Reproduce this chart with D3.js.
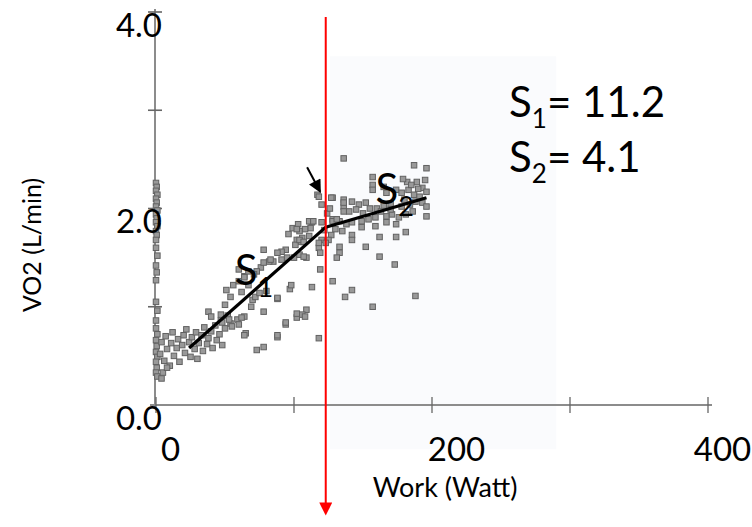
<!DOCTYPE html>
<html><head><meta charset="utf-8">
<script src="https://cdn.jsdelivr.net/npm/d3@7"></script>
<style>body{margin:0;background:#fff} svg{display:block} text{font-family:Lato,"Open Sans",sans-serif;fill:#000}</style>
</head><body><svg id="c" width="752" height="527"></svg>
<script>
// Rest-phase measurements plotted at 0 W (column on the y axis)
const restPoints = [[0,2.26],[0.5,2.22],[0,2.18],[1,2.14],[0,2.1],[0.5,2.06],[0,2.02],[1,1.98],[0,1.94],[0.5,1.9],[0,1.86],[1,1.82],[0,1.77],[0.5,1.73],[0,1.68],[0,1.6],[1,1.52],[0,1.42],[0.5,1.35],[0,1.27],[0,1.05],[1,0.96],[0,0.86],[0,0.78],[1,0.72],[0,0.66],[0.5,0.6],[0,0.54],[1,0.49],[0,0.44],[0.5,0.38],[0,0.33],[1,0.29]];
// Exercise measurements [Work (W), VO2 (L/min)]
const exercisePoints = [
[3,0.52],[4,0.64],[6,0.45],[7,0.7],[8,0.57],[10,0.4],[11,0.63],[12,0.74],[13,0.5],[15,0.58],[16,0.67],[17,0.44],[19,0.61],[20,0.71],[21,0.53],[22,0.77],[24,0.64],[25,0.49],[26,0.69],[28,0.57],[29,0.74],[30,0.47],[31,0.63],[33,0.71],[34,0.55],[35,0.79],[37,0.62],[38,0.68],[40,0.75],[41,0.58],[43,0.81],[44,0.66],[46,0.72],[47,0.86],[48,0.61],[50,0.78],[52,0.91],[54,0.83],[5,0.33],[8,0.38],[4,0.27],
[38,0.95],[40,0.9],[47,0.92],[48,0.84],[53,0.87],[55,0.8],[59,0.87],[60,0.82],[64,0.9],[65,0.73],[62,0.89],
[69,1.0],[70,1.07],[72,1.1],[75,1.14],[80,1.16],[51,1.17],[56,1.22],[60,1.26],[64,1.31],[67,1.36],[54,1.1],[50,1.02],
[60,1.38],[64,1.3],[67,1.22],[62,1.15],[76,1.4],[73,1.36],[71,1.33],[85,1.46],[82,1.46],[78,1.45],[94,1.58],[91,1.56],[88,1.55],
[102,1.68],[105,1.66],[113,1.86],[112,1.8],[108,1.79],[104,1.77],[78,1.58],[109,1.5],[97,1.18],[113,1.2],[88,1.08],[78,0.95],
[109,0.97],[106,0.92],[102,0.89],[94,0.82],[64,0.71],[88,0.69],[78,0.59],[73,0.56],[118,0.68],
[95,1.5],[100,1.5],[104,1.53],[107,1.51],[83,1.48],[91,1.48],[101,1.63],[106,1.7],[111,1.72],[96,1.74],[99,1.8],[103,1.84],
[112,1.87],[102,1.79],[104,1.68],[107,1.66],[118,1.6],[120,1.68],[117,2.14],[118,1.65],[119,1.55],[119,1.38],[98,1.22],[88,1.09],[94,0.84],[102,0.93],[108,0.9],[88,0.71],
[136,2.51],[187,2.44],[196,2.41],[182,2.27],[189,2.27],[193,2.21],[196,2.17],[157,2.32],[157,2.24],[157,2.19],[165,2.22],[167,2.16],[174,2.19],[178,2.16],[183,2.19],[187,2.14],[191,2.12],[188,2.07],[193,2.06],[196,2.02],[196,1.92],
[128,2.11],[136,2.09],[142,2.07],[147,2.04],[152,2.06],[136,2.02],[140,1.97],[145,1.99],
[128,1.89],[133,1.87],[138,1.84],[142,1.86],[149,1.87],[154,1.89],[159,1.91],[167,1.92],[171,1.94],[176,1.91],[181,1.94],[186,1.97],
[130,1.79],[135,1.77],[142,1.73],[142,1.68],[149,1.81],[159,1.82],[167,1.86],[174,1.84],[162,1.71],[174,1.71],[181,1.76],
[152,1.61],[162,1.51],[133,1.61],[133,1.55],[131,1.5],[127,1.73],[125,1.68],[123,1.65],
[173,1.43],[128,1.26],[142,1.17],[137,1.1],[157,1.0],[188,1.11],
[118,2.12],[127,2.11],[120,2.04],[136,2.06],[136,1.97],[111,1.87],[114,1.87],[120,1.86],[128,1.87],[131,1.89],
[160,2.0],[165,2.03],[170,2.05],[178,2.02],[184,2.04],[150,1.95],[155,2.0],[163,1.97],[170,1.99],[180,2.09],[190,2.2],[185,2.24],[179,2.3],[195,2.29],[124,1.95],[122,1.78],[126,2.0]
];
const slope1Line = [[24,0.58],[123,1.81]];
const slope2Line = [[123,1.81],[196,2.11]];
const thresholdW = 123;
const xTicks = [0,100,200,300,400];
const xLabels = [0,200,400];
const yTicks = [0,1,2,3,4];
const yLabels = [0,2,4];
const slopes = [{sub:"1", value:"11.2"},{sub:"2", value:"4.1"}];

const svg = d3.select("#c");
const x = d3.scaleLinear().domain([0,400]).range([156,708]);
const y = d3.scaleLinear().domain([0,4]).range([405,12]);

const defs = svg.append("defs");
defs.append("filter").attr("id","soft").append("feGaussianBlur").attr("stdDeviation",0.6);
defs.append("marker").attr("id","redHead").attr("viewBox","0 0 10 10").attr("refX",2).attr("refY",5)
  .attr("markerWidth",7).attr("markerHeight",6.5).attr("markerUnits","strokeWidth").attr("orient","auto")
  .append("path").attr("d","M0,0L10,5L0,10Z").attr("fill","#ff0000");
defs.append("marker").attr("id","blackHead").attr("viewBox","0 0 10 10").attr("refX",9).attr("refY",5)
  .attr("markerWidth",7).attr("markerHeight",6.5).attr("markerUnits","strokeWidth").attr("orient","auto")
  .append("path").attr("d","M0,0L10,5L0,10Z").attr("fill","#000");

// faint scan background
svg.append("rect").attr("x",x(126)).attr("y",y(3.55)).attr("width",x(290)-x(126)).attr("height",y(-0.45)-y(3.55)).attr("fill","#fafbfd");

// axes lines
const ax = svg.append("g").attr("stroke","#8c8c8c").attr("fill","none");
ax.append("line").attr("x1",x(0)-1).attr("x2",x(0)-1).attr("y1",y(4)-3).attr("y2",y(0)+3).attr("stroke-width",2);
ax.append("line").attr("x1",x(0)-6).attr("x2",x(400)+4).attr("y1",y(0)).attr("y2",y(0)).attr("stroke-width",1.8);
ax.selectAll(".xt").data(xTicks).join("line").attr("x1",d=>x(d)).attr("x2",d=>x(d)).attr("y1",y(0)-8).attr("y2",y(0)+8).attr("stroke","#666").attr("stroke-width",1.3);
ax.selectAll(".yt").data(yTicks.filter(d=>d>0)).join("line").attr("x1",x(0)-8).attr("x2",x(0)+6).attr("y1",d=>y(d)).attr("y2",d=>y(d)).attr("stroke","#666").attr("stroke-width",1.6);

// points
const pts = svg.append("g").attr("filter","url(#soft)");
const s = 5.5;
pts.selectAll("rect.r").data(restPoints.concat(exercisePoints)).join("rect")
  .attr("x",d=>x(d[0])-s/2).attr("y",d=>y(d[1])-s/2).attr("width",s).attr("height",s)
  .attr("fill","#999").attr("stroke","#626262").attr("stroke-width",1);

// slope lines
const line = d3.line().x(d=>x(d[0])).y(d=>y(d[1]));
svg.append("path").attr("d",line(slope1Line)).attr("stroke","#000").attr("stroke-width",3.2).attr("fill","none");
svg.append("path").attr("d",line(slope2Line)).attr("stroke","#000").attr("stroke-width",3.2).attr("fill","none");

// threshold red arrow
svg.append("line").attr("x1",x(thresholdW)).attr("x2",x(thresholdW)).attr("y1",y(3.95)).attr("y2",y(-1.02))
  .attr("stroke","#ff0000").attr("stroke-width",2).attr("marker-end","url(#redHead)");
// small black arrow
svg.append("line").attr("x1",x(109.5)).attr("x2",x(119)).attr("y1",y(2.42)).attr("y2",y(2.17))
  .attr("stroke","#000").attr("stroke-width",2).attr("marker-end","url(#blackHead)");

// tick labels
const labelShift = {0:14, 200:24, 400:14};
const gx = svg.append("g").attr("transform",`translate(0,${y(0)})`)
  .call(d3.axisBottom(x).tickValues(xLabels).tickSize(0).tickFormat(d3.format("d")));
gx.select(".domain").remove();
gx.selectAll("text").attr("font-size",33).attr("font-family","Lato").attr("dy",null).attr("y",56).attr("dx",d=>labelShift[d]).attr("fill","#000");
const gy = svg.append("g").attr("transform",`translate(${x(0)-1},0)`)
  .call(d3.axisLeft(y).tickValues(yLabels).tickSize(0).tickFormat(d3.format(".1f")));
gy.select(".domain").remove();
gy.selectAll("text").attr("font-size",33).attr("font-family","Lato").attr("dy",null).attr("x",7).attr("y",24).attr("fill","#000");

// axis titles
svg.append("text").attr("x",445).attr("y",497).attr("text-anchor","middle").attr("font-size",27).text("Work (Watt)");
svg.append("text").attr("transform","translate(41,245) rotate(-90)").attr("text-anchor","middle").attr("font-size",25).text("VO2 (L/min)");

// S labels on lines
function sLabel(px,py,sub){
  const t = svg.append("text").attr("x",px).attr("y",py).attr("font-size",42);
  t.append("tspan").text("S");
  t.append("tspan").attr("font-size",27).attr("dy",12).text(sub);
}
sLabel(x(57),y(1.22),slopes[0].sub);
sLabel(x(159),y(2.05),slopes[1].sub);

// slope values
slopes.forEach((d,i)=>{
  const t = svg.append("text").attr("x",509).attr("y",117+i*55).attr("font-size",42);
  t.append("tspan").text("S");
  t.append("tspan").attr("font-size",26).attr("dy",11).text(d.sub);
  t.append("tspan").attr("dy",-11).text("= "+d.value);
});
</script></body></html>
